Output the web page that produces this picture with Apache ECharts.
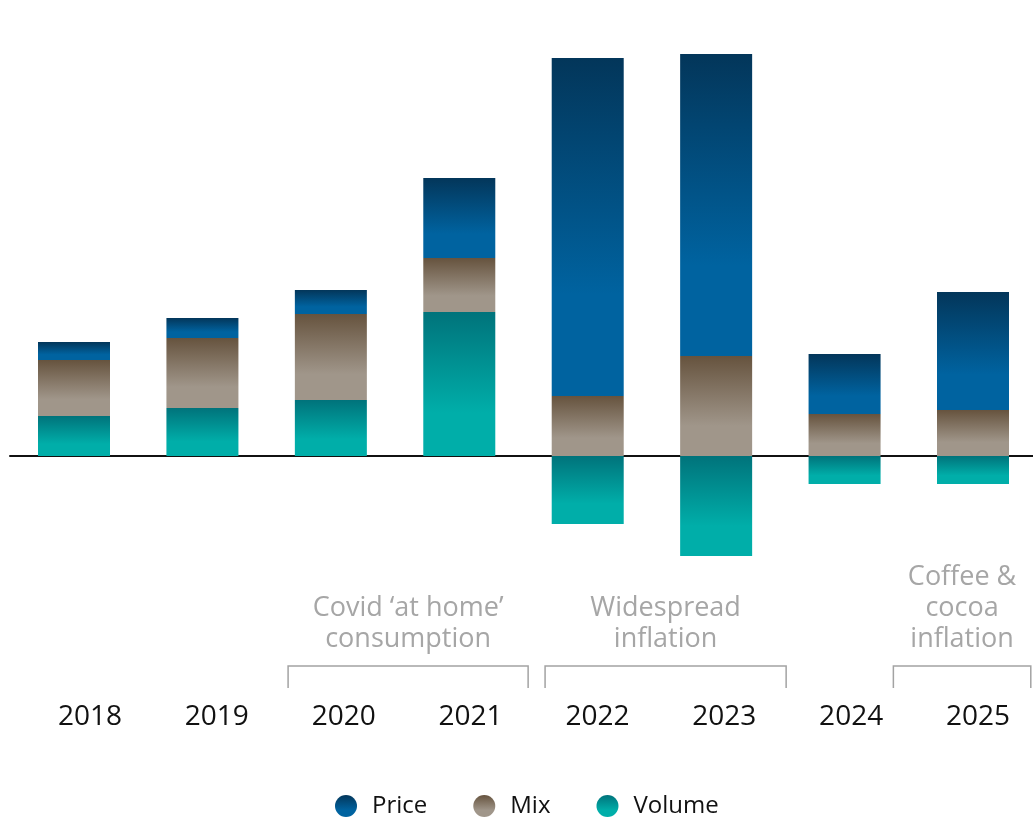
<!DOCTYPE html>
<html>
<head>
<meta charset="utf-8">
<script src="https://cdn.jsdelivr.net/npm/echarts@6/dist/echarts.min.js"></script>
<style>
  html, body { margin: 0; padding: 0; background: #ffffff; }
  #chart { width: 1033px; height: 818px; }
</style>
</head>
<body>
<div id="chart"></div>
<script>
// Sales growth decomposition by year (percentage points)
const years = ['2018', '2019', '2020', '2021', '2022', '2023', '2024', '2025'];
const volume = [1.0, 1.2, 1.4, 3.6, -1.7, -2.5, -0.7, -0.7];
const mix    = [1.4, 1.75, 2.15, 1.35, 1.5, 2.5, 1.05, 1.15];
const price  = [0.45, 0.5, 0.6, 2.0, 8.45, 7.55, 1.5, 2.95];

// Period annotations: text lines and the category span they bracket
const periodLabels = [
  ['Covid \u2018at home\u2019', 'consumption'],
  ['Widespread', 'inflation'],
  ['Coffee &', 'cocoa', 'inflation']
];
const periodSpans = [
  [1.667, 3.536],
  [3.668, 5.545],
  [6.38, 7.45]
];

const FONT = '"Open Sans", "Noto Sans", sans-serif';

function grad(top, bottom) {
  return new echarts.graphic.LinearGradient(0, 0, 0, 1, [
    { offset: 0, color: top },
    { offset: 0.7, color: bottom },
    { offset: 1, color: bottom }
  ]);
}

const colors = {
  Price: grad('#03365a', '#0063a0'),
  Mix: grad('#66533e', '#a0968a'),
  Volume: grad('#00737b', '#00aea9')
};

const chart = echarts.init(document.getElementById('chart'));

function barSeries(name, data) {
  return {
    name: name,
    type: 'bar',
    xAxisIndex: 0,
    yAxisIndex: 0,
    stack: 'total',
    stackStrategy: 'samesign',
    data: data,
    barWidth: 72,
    clip: false,
    itemStyle: { color: colors[name] },
    emphasis: { disabled: true }
  };
}

const plotTop = 16, plotHeight = 600, yMin = -4, yMax = 11;

chart.setOption({
  animation: false,
  grid: [
    // bars: first and last category centres on the grid edges
    { left: 74, width: 899, top: plotTop, height: plotHeight, containLabel: false },
    // year labels
    { left: 90, width: 888, top: plotTop, height: plotHeight, containLabel: false },
    // zero baseline across the full width
    { left: 10, width: 1023, top: plotTop, height: plotHeight, containLabel: false }
  ],
  xAxis: [
    {
      type: 'category', gridIndex: 0, data: years, boundaryGap: false,
      axisLine: { show: false }, axisTick: { show: false }, axisLabel: { show: false },
      splitLine: { show: false }
    },
    {
      type: 'category', gridIndex: 1, data: years, boundaryGap: false, position: 'bottom',
      axisLine: { show: false, onZero: false }, axisTick: { show: false },
      axisLabel: { margin: 87, color: '#111111', fontSize: 28, fontFamily: FONT },
      splitLine: { show: false }
    },
    {
      type: 'category', gridIndex: 2, data: years,
      axisLine: { show: true, onZero: true, lineStyle: { color: '#111111', width: 2 } },
      axisTick: { show: false }, axisLabel: { show: false }, splitLine: { show: false }
    }
  ],
  yAxis: [0, 1, 2].map(function (g) {
    return { type: 'value', gridIndex: g, min: yMin, max: yMax, show: false, splitLine: { show: false } };
  }),
  legend: {
    top: 789,
    left: 330,
    icon: 'circle',
    itemWidth: 22,
    itemHeight: 22,
    itemGap: 46,
    selectedMode: false,
    data: ['Price', 'Mix', 'Volume'],
    textStyle: { fontSize: 24, color: '#111111', fontFamily: FONT, padding: [0, 0, 0, 10] }
  },
  series: [
    barSeries('Volume', volume),
    barSeries('Mix', mix),
    barSeries('Price', price)
  ]
});

// Category index (fractional) to pixel x, using the bar axis' own scale
function catX(v) {
  const px = function (i) { return chart.convertToPixel({ xAxisIndex: 0 }, years[i]); };
  const i = Math.min(Math.floor(v), years.length - 2);
  return px(i) + (v - i) * (px(i + 1) - px(i));
}

const graphics = [];
const bracketY = 666, bracketDrop = 22, lineH = 31, lastLineY = 639;
periodLabels.forEach(function (lines, k) {
  const x0 = catX(periodSpans[k][0]);
  const x1 = catX(periodSpans[k][1]);
  const cx = (x0 + x1) / 2;
  graphics.push({
    type: 'polyline',
    shape: { points: [[x0, bracketY + bracketDrop], [x0, bracketY], [x1, bracketY], [x1, bracketY + bracketDrop]] },
    style: { stroke: '#a3a3a3', lineWidth: 1.5, fill: null }
  });
  lines.forEach(function (t, j) {
    graphics.push({
      type: 'text',
      x: cx,
      y: lastLineY - (lines.length - 1 - j) * lineH,
      style: {
        text: t,
        fill: '#a6a6a6',
        font: '27px ' + FONT,
        textAlign: 'center',
        textVerticalAlign: 'middle'
      }
    });
  });
});
chart.setOption({ graphic: graphics });
</script>
</body>
</html>
